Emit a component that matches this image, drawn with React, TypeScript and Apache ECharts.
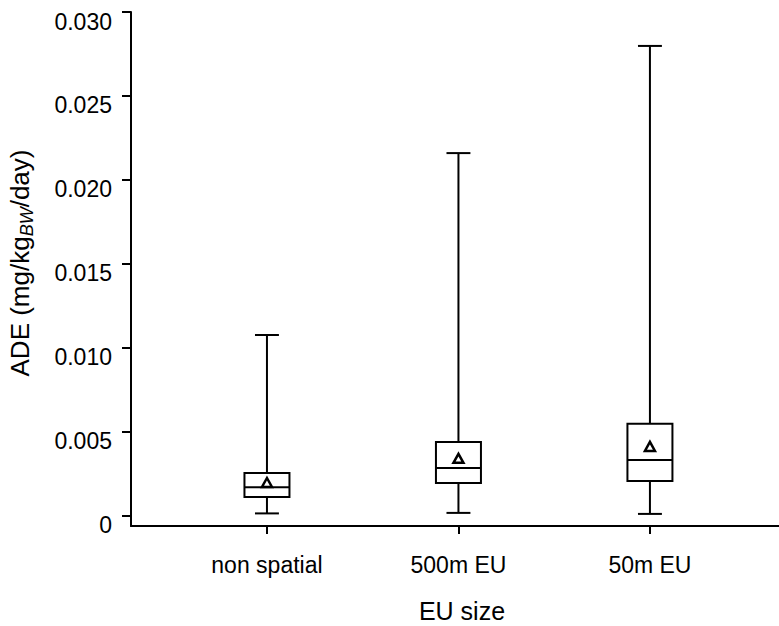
import React, { useEffect, useRef } from "react";
import * as echarts from "echarts";

const categories = ["non spatial", "500m EU", "50m EU"];
const minValues = [0.00015, 0.00018, 0.00012];
const q1Values = [0.00113, 0.00196, 0.00208];
const medianValues = [0.0017, 0.00286, 0.00333];
const q3Values = [0.00256, 0.0044, 0.00548];
const maxValues = [0.01077, 0.0216, 0.02798];
const meanValues = [0.00196, 0.0034, 0.00411];
const yTicks = [0, 0.005, 0.01, 0.015, 0.02, 0.025, 0.03];
const xTicks = [1, 2, 3];
const xTitle = "EU size";

const FONT = "Liberation Sans, Arial, sans-serif";

export default function App() {
  const ref = useRef<HTMLDivElement>(null);
  useEffect(() => {
    if (!ref.current) return;
    const chart = echarts.init(ref.current, undefined, { renderer: "svg" });
    const data = categories.map((_, i) => [
      i + 1,
      minValues[i],
      q1Values[i],
      medianValues[i],
      q3Values[i],
      maxValues[i],
      meanValues[i],
    ]);
    const ls = { stroke: "#000", lineWidth: 2, fill: "none" };
    chart.setOption({
      animation: false,
      backgroundColor: "#fff",
      grid: { left: 131, right: 0, top: 12, bottom: 100, containLabel: false },
      xAxis: {
        type: "value",
        min: 0.29,
        max: 3.674,
        splitLine: { show: false },
        axisLine: { show: true, onZero: false, lineStyle: { color: "#000", width: 2 } },
        axisTick: { show: true, customValues: xTicks, length: 8, lineStyle: { color: "#000", width: 2 } },
        axisLabel: {
          customValues: xTicks,
          margin: 27,
          color: "#000",
          fontSize: 23,
          fontFamily: FONT,
          formatter: (v: number) => categories[Math.round(v) - 1] ?? "",
        },
      },
      yAxis: {
        type: "value",
        min: -0.0006,
        max: 0.03,
        splitLine: { show: false },
        axisLine: { show: true, onZero: false, lineStyle: { color: "#000", width: 2 } },
        axisTick: { show: true, customValues: yTicks, length: 9, lineStyle: { color: "#000", width: 2 } },
        axisLabel: {
          customValues: yTicks,
          margin: 19,
          color: "#000",
          fontSize: 23,
          fontFamily: FONT,
          verticalAlign: "top",
          lineHeight: 19,
          formatter: (v: number) => (Math.abs(v) < 1e-9 ? "0" : v.toFixed(3)),
        },
      },
      graphic: [
        {
          type: "text",
          x: 462,
          y: 611,
          style: {
            text: xTitle,
            fontSize: 25,
            fontFamily: FONT,
            fill: "#000",
            align: "center",
            verticalAlign: "middle",
          },
        },
        {
          type: "text",
          x: 20,
          y: 263,
          rotation: Math.PI / 2,
          style: {
            text: "{m|ADE (mg/kg}{s|BW}{m|/day)}",
            align: "center",
            verticalAlign: "middle",
            fill: "#000",
            rich: {
              m: { fontSize: 26, fontFamily: FONT, lineHeight: 32, verticalAlign: "middle", fill: "#000" },
              s: { fontSize: 18, fontFamily: FONT, fontStyle: "italic", lineHeight: 32, verticalAlign: "bottom", fill: "#000" },
            },
          },
        },
      ],
      series: [
        {
          type: "custom",
          data,
          encode: { x: 0, y: [1, 2, 3, 4, 5, 6] },
          renderItem: (params: any, api: any) => {
            const x = api.value(0);
            const pMin = api.coord([x, api.value(1)]);
            const pQ1 = api.coord([x, api.value(2)]);
            const pMed = api.coord([x, api.value(3)]);
            const pQ3 = api.coord([x, api.value(4)]);
            const pMax = api.coord([x, api.value(5)]);
            const pMean = api.coord([x, api.value(6)]);
            const unit = api.size([1, 0])[0];
            const bw = unit * 0.235;
            const cw = unit * 0.125;
            const cx = pMin[0];
            const t = 5;
            return {
              type: "group",
              children: [
                { type: "line", shape: { x1: cx, y1: pMin[1], x2: cx, y2: pQ1[1] }, style: ls },
                { type: "line", shape: { x1: cx, y1: pQ3[1], x2: cx, y2: pMax[1] }, style: ls },
                { type: "line", shape: { x1: cx - cw / 2, y1: pMin[1], x2: cx + cw / 2, y2: pMin[1] }, style: ls },
                { type: "line", shape: { x1: cx - cw / 2, y1: pMax[1], x2: cx + cw / 2, y2: pMax[1] }, style: ls },
                {
                  type: "rect",
                  shape: { x: cx - bw / 2, y: pQ3[1], width: bw, height: pQ1[1] - pQ3[1] },
                  style: ls,
                },
                { type: "line", shape: { x1: cx - bw / 2, y1: pMed[1], x2: cx + bw / 2, y2: pMed[1] }, style: ls },
                {
                  type: "polygon",
                  shape: {
                    points: [
                      [pMean[0], pMean[1] - t],
                      [pMean[0] - t, pMean[1] + t - 1],
                      [pMean[0] + t, pMean[1] + t - 1],
                    ],
                  },
                  style: { ...ls, lineWidth: 2.5 },
                },
              ],
            };
          },
        },
      ],
    });
    return () => chart.dispose();
  }, []);
  return (
    <div
      ref={ref}
      style={{ position: "absolute", left: 0, top: 0, width: 779, height: 626 }}
    />
  );
}
